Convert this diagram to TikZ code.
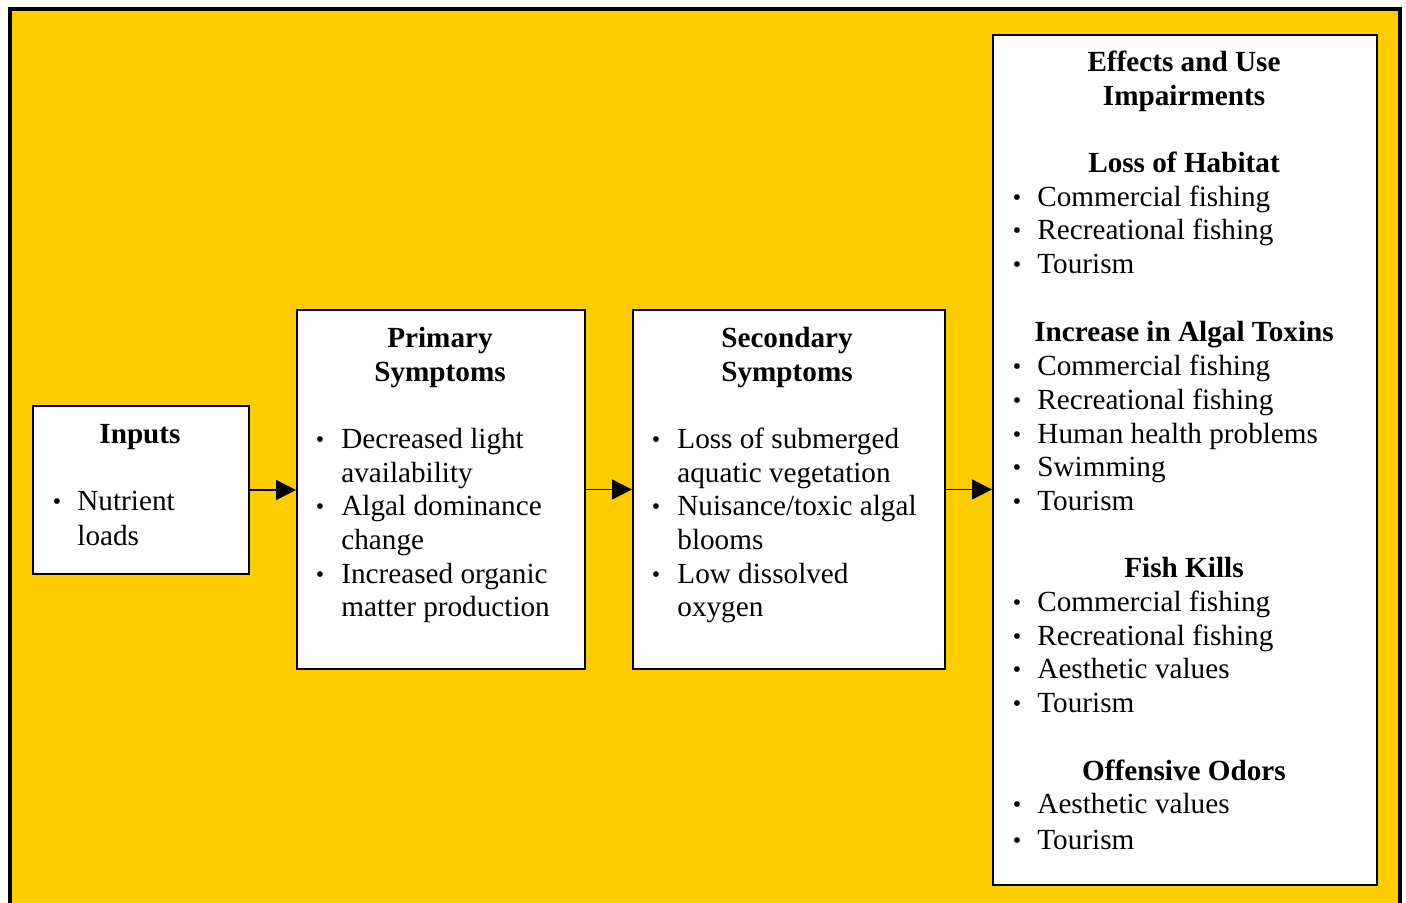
\documentclass[tikz,border=0pt]{standalone}
\usepackage{fontspec}
\setmainfont{Liberation Serif}
\usetikzlibrary{arrows.meta}
\definecolor{bgyellow}{HTML}{FFCC00}
\begin{document}
\begin{tikzpicture}[x=0.5pt,y=-0.5pt,
  box/.style={draw=black,line width=1pt,fill=white,inner sep=0pt,anchor=north west},
  txt/.style={anchor=base west,inner sep=0pt,font=\fontsize{14.6}{17}\selectfont},
  hd/.style={anchor=base,inner sep=0pt,font=\fontsize{14.6}{17}\selectfont\bfseries},
  bul/.style={anchor=base,inner sep=0pt,font=\fontsize{12}{17}\selectfont},
  arr/.style={-{Triangle[length=10pt,width=10pt]},line width=0.7pt}]
\useasboundingbox (0,0) rectangle (1406,903);
\draw[line width=2pt,fill=bgyellow] (10,9) rectangle (1400,930);
% boxes
\node[box,minimum width=108pt,minimum height=84pt] (inputs) at (32,405) {};
\node[box,minimum width=144pt,minimum height=179.5pt] (primary) at (296,309) {};
\node[box,minimum width=156pt,minimum height=179.5pt] (secondary) at (632,309) {};
\node[box,minimum width=192pt,minimum height=425pt] (effects) at (992,34) {};
% arrows
\draw[arr] (inputs.east) -- (inputs.east -| primary.west);
\draw[arr] (primary.east) -- (primary.east -| secondary.west);
\draw[arr] (secondary.east) -- (secondary.east -| effects.west);
% Inputs
\node[hd] (inh) at (140,443) {Inputs};
\node[bul] (inb1) at (57,509) {\textbullet};
\node[txt] (in1) at (77,510) {Nutrient};
\node[txt] (in2) at (77,545) {loads};
% Primary
\node[hd] (prh1) at (440,347) {Primary};
\node[hd] (prh2) at (440,381) {Symptoms};
\node[bul] (prb1) at (320,447) {\textbullet};
\node[bul] (prb2) at (320,514) {\textbullet};
\node[bul] (prb3) at (320,582) {\textbullet};
\node[txt] (pr1) at (341,448) {Decreased light};
\node[txt] (pr2) at (341,482) {availability};
\node[txt] (pr3) at (341,515) {Algal dominance};
\node[txt] (pr4) at (341,549) {change};
\node[txt] (pr5) at (341,583) {Increased organic};
\node[txt] (pr6) at (341,616) {matter production};
% Secondary
\node[hd] (seh1) at (787,347) {Secondary};
\node[hd] (seh2) at (787,381) {Symptoms};
\node[bul] (seb1) at (656,447) {\textbullet};
\node[bul] (seb2) at (656,514) {\textbullet};
\node[bul] (seb3) at (656,582) {\textbullet};
\node[txt] (se1) at (677,448) {Loss of submerged};
\node[txt] (se2) at (677,482) {aquatic vegetation};
\node[txt] (se3) at (677,515) {Nuisance/toxic algal};
\node[txt] (se4) at (677,549) {blooms};
\node[txt] (se5) at (677,583) {Low dissolved};
\node[txt] (se6) at (677,616) {oxygen};
% Effects
\node[hd] (efh1) at (1184,72) {Effects and Use};
\node[hd] (efh2) at (1184,106) {Impairments};
\node[hd] (efh3) at (1184,173) {Loss of Habitat};
\node[hd] (efh4) at (1184,342) {Increase in Algal Toxins};
\node[hd] (efh5) at (1184,577) {Fish Kills};
\node[hd] (efh6) at (1184,780) {Offensive Odors};
\foreach \y/\t [count=\i] in {207/Commercial fishing,240/Recreational fishing,274/Tourism,
  375/Commercial fishing,409/Recreational fishing,443/Human health problems,476/Swimming,510/Tourism,
  611/Commercial fishing,645/Recreational fishing,678/Aesthetic values,712/Tourism,
  813/Aesthetic values,849/Tourism}{
  \node[bul] (efb\i) at (1017,\y-1) {\textbullet};
  \node[txt] (ef\i) at (1037,\y) {\t};
}
\end{tikzpicture}
\end{document}
